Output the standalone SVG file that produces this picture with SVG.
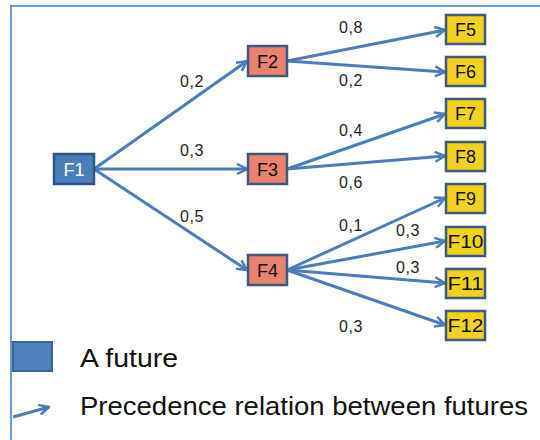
<svg xmlns="http://www.w3.org/2000/svg" width="540" height="440" viewBox="0 0 540 440">
<defs>
<style>
.frame{fill:none;stroke:#6b9bd6;stroke-width:2}
.edge{stroke:#4a7ebb;stroke-width:3;fill:none;marker-end:url(#arr)}
.n1{fill:#4a7ebb;stroke:#2f5583;stroke-width:2.5}
.n2{fill:#e9826f;stroke:#3b5a80;stroke-width:2.5}
.n3{fill:#f2d21c;stroke:#3b5a80;stroke-width:2.5}
.t{font-family:"Liberation Sans",Arial,sans-serif;font-size:18px;text-anchor:middle;fill:#111}
.lbl{font-family:"Liberation Sans",Arial,sans-serif;font-size:16px;fill:#222;letter-spacing:0.6px}
.leg{font-family:"Liberation Sans",Arial,sans-serif;font-size:26px;fill:#111}
</style>
<marker id="arr" viewBox="0 0 12 12" refX="11" refY="6" markerWidth="12" markerHeight="12" markerUnits="userSpaceOnUse" orient="auto">
<path d="M1,1 L11,6 L1,11" fill="none" stroke="#4a7ebb" stroke-width="2.5" stroke-linejoin="miter"/>
</marker>
</defs>
<rect class="frame" x="11" y="6" width="600" height="500"/>
<g id="connectors">
<line class="edge" x1="94" y1="169" x2="247" y2="61"/>
<line class="edge" x1="94" y1="169" x2="247" y2="169"/>
<line class="edge" x1="94" y1="169" x2="247" y2="270"/>
<line class="edge" x1="287" y1="61" x2="445" y2="30"/>
<line class="edge" x1="287" y1="61" x2="445" y2="72"/>
<line class="edge" x1="287" y1="169" x2="445" y2="114"/>
<line class="edge" x1="287" y1="169" x2="445" y2="156"/>
<line class="edge" x1="287" y1="270" x2="445" y2="198"/>
<line class="edge" x1="287" y1="270" x2="445" y2="241"/>
<line class="edge" x1="287" y1="270" x2="445" y2="283"/>
<line class="edge" x1="287" y1="270" x2="445" y2="325"/>
</g>
<g id="labels">
<text class="lbl" x="180" y="87">0,2</text>
<text class="lbl" x="180" y="156">0,3</text>
<text class="lbl" x="180" y="222">0,5</text>
<text class="lbl" x="339" y="33">0,8</text>
<text class="lbl" x="339" y="86">0,2</text>
<text class="lbl" x="339" y="136">0,4</text>
<text class="lbl" x="339" y="188">0,6</text>
<text class="lbl" x="339" y="231">0,1</text>
<text class="lbl" x="396" y="236">0,3</text>
<text class="lbl" x="396" y="273">0,3</text>
<text class="lbl" x="339" y="332">0,3</text>
</g>
<g id="F1"><rect class="n1" x="54" y="154" width="40" height="30"/><text class="t" x="74" y="175.5" style="fill:#fff">F1</text></g>
<g id="F2"><rect class="n2" x="248" y="46" width="39" height="30"/><text class="t" x="267.5" y="67.5">F2</text></g>
<g id="F3"><rect class="n2" x="248" y="154" width="39" height="30"/><text class="t" x="267.5" y="175.5">F3</text></g>
<g id="F4"><rect class="n2" x="248" y="255" width="39" height="30"/><text class="t" x="267.5" y="276.5">F4</text></g>
<g id="F5"><rect class="n3" x="446" y="15" width="39" height="29"/><text class="t" x="465.5" y="36">F5</text></g>
<g id="F6"><rect class="n3" x="446" y="57" width="39" height="29"/><text class="t" x="465.5" y="78">F6</text></g>
<g id="F7"><rect class="n3" x="446" y="99" width="39" height="29"/><text class="t" x="465.5" y="120">F7</text></g>
<g id="F8"><rect class="n3" x="446" y="142" width="39" height="29"/><text class="t" x="465.5" y="163">F8</text></g>
<g id="F9"><rect class="n3" x="446" y="184" width="39" height="29"/><text class="t" x="465.5" y="205">F9</text></g>
<g id="F10"><rect class="n3" x="446" y="227" width="39" height="29"/><text class="t" x="465.5" y="248" textLength="36" lengthAdjust="spacingAndGlyphs">F10</text></g>
<g id="F11"><rect class="n3" x="446" y="269" width="39" height="29"/><text class="t" x="465.5" y="290" textLength="36" lengthAdjust="spacingAndGlyphs">F11</text></g>
<g id="F12"><rect class="n3" x="446" y="311" width="39" height="29"/><text class="t" x="465.5" y="332" textLength="36" lengthAdjust="spacingAndGlyphs">F12</text></g>
<g id="legend">
<rect x="13" y="342" width="39" height="29" fill="#4f81bd" stroke="#3a6396" stroke-width="2"/>
<text class="leg" x="80" y="367" textLength="98" lengthAdjust="spacingAndGlyphs">A future</text>
<line x1="13" y1="417" x2="49" y2="407" stroke="#4a7ebb" stroke-width="3" marker-end="url(#arr)"/>
<text class="leg" x="80" y="415" textLength="448" lengthAdjust="spacingAndGlyphs">Precedence relation between futures</text>
</g>
</svg>
